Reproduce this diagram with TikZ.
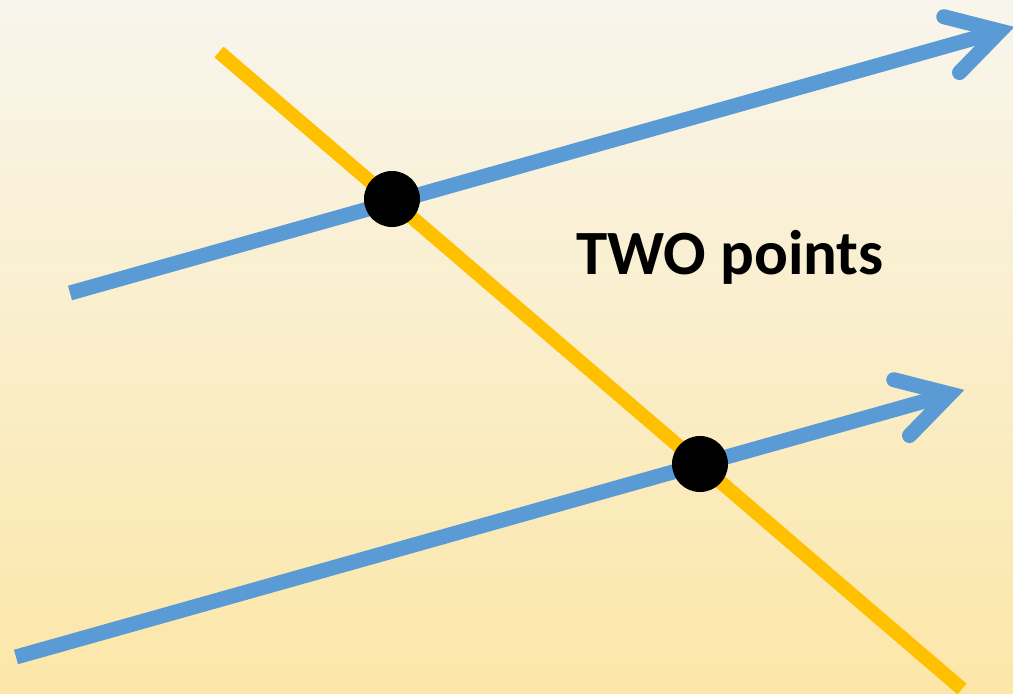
\documentclass[tikz,border=0pt]{standalone}
\usepackage{fontspec}
\setmainfont{Carlito}
\usetikzlibrary{calc}
\definecolor{bgtop}{RGB}{248,245,236}
\definecolor{bgbot}{RGB}{252,231,168}
\definecolor{lineblue}{RGB}{91,155,213}
\definecolor{lineorange}{RGB}{255,192,0}
\tikzset{
  blueline/.style={draw=lineblue, line width=15pt},
  bluehead/.style={draw=lineblue, line width=15pt, line cap=round, line join=miter},
  orangeline/.style={draw=lineorange, line width=14pt},
  dot/.style={circle, fill=black, minimum size=56pt, inner sep=0pt},
  label/.style={font=\bfseries\fontsize{63}{70}\selectfont, text=black, anchor=base, inner sep=0pt}
}
\begin{document}
\begin{tikzpicture}[x={(1pt,0)}, y={(0,-1pt)}]
\useasboundingbox (0,0) rectangle (1013,694);
\shade[top color=bgtop, bottom color=bgbot] (0,0) rectangle (1013,694);
% coordinates
\coordinate (s1) at (70,293);
\coordinate (t1) at (1000,31);
\coordinate (s2) at (16,657);
\coordinate (t2) at (950,394);
\coordinate (o1) at (219,52);
\coordinate (o2) at (962,689);
% orange line
\draw[orangeline] (o1) -- (o2);
% blue lines
\draw[blueline] (s1) -- ($(t1)!10pt!(s1)$);
\draw[bluehead] ($(t1)!58pt!30:(s1)$) -- (t1) -- ($(t1)!58pt!-30:(s1)$);
\draw[blueline] (s2) -- ($(t2)!10pt!(s2)$);
\draw[bluehead] ($(t2)!58pt!30:(s2)$) -- (t2) -- ($(t2)!58pt!-30:(s2)$);
% intersection dots
\node[dot] (p1) at (392,199) {};
\node[dot] (p2) at (700,464) {};
% label
\node[label] (txt) at (730,274) {TWO points};
\end{tikzpicture}
\end{document}
